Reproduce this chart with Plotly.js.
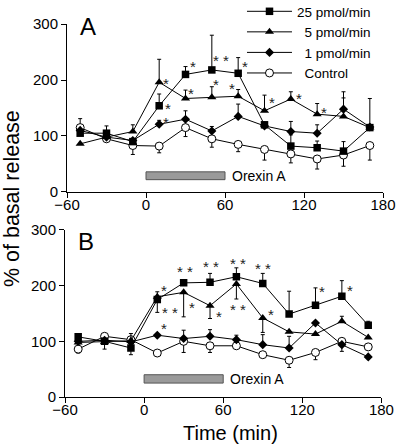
<!DOCTYPE html>
<html>
<head>
<meta charset="utf-8">
<script src="https://cdn.plot.ly/plotly-3.0.1.min.js"></script>
<style>html,body{margin:0;padding:0;background:#fff;}#chart{width:400px;height:446px;}</style>
</head>
<body>
<div id="chart"></div>
<script>
// ---- data ----
const times = [-50, -30, -10, 10, 30, 50, 70, 90, 110, 130, 150, 170];
const seriesNames = ["25 pmol/min", "\u20075 pmol/min", "\u20071 pmol/min", "\u2007Control"];

// Panel A
const a25 = [105, 105, 90, 154, 210, 218, 212, 120, 82, 79, 73, 115];
const a25Up = [0, 13, 0, 21, 14, 62, 28, 0, 20, 12, 17, 52];
const a25Down = [0, 0, 0, 0, 0, 0, 0, 0, 0, 0, 0, 0];
const a5 = [86, 98, 108, 196, 167, 169, 171, 145, 166, 139, 135, 115];
const a5Up = [0, 0, 12, 41, 15, 19, 12, 28, 13, 19, 44, 0];
const a5Down = [0, 0, 0, 0, 0, 0, 0, 0, 0, 0, 0, 0];
const a1 = [110, 98, 92, 121, 130, 109, 135, 118, 108, 105, 148, 116];
const a1Up = [0, 0, 0, 7, 15, 8, 22, 0, 18, 15, 20, 0];
const a1Down = [0, 0, 0, 0, 0, 0, 0, 0, 0, 0, 0, 0];
const aCtl = [115, 95, 83, 82, 115, 95, 85, 76, 68, 59, 66, 83];
const aCtlUp = [16, 0, 0, 0, 0, 0, 0, 0, 0, 0, 0, 0];
const aCtlDown = [0, 0, 16, 12, 16, 15, 13, 19, 16, 18, 20, 26];

// Panel B
const b25 = [108, 100, 88, 175, 205, 206, 216, 204, 149, 165, 181, 129];
const b25Up = [0, 0, 0, 14, 0, 16, 16, 18, 41, 31, 28, 7];
const b25Down = [0, 14, 12, 0, 0, 0, 0, 0, 0, 0, 0, 0];
const b5 = [98, 99, 101, 180, 188, 164, 203, 142, 117, 113, 136, 107];
const b5Up = [0, 0, 13, 0, 0, 0, 0, 0, 0, 0, 9, 0];
const b5Down = [0, 0, 0, 28, 44, 23, 27, 26, 0, 0, 0, 0];
const b1 = [100, 102, 99, 111, 105, 109, 103, 94, 88, 133, 94, 72];
const b1Up = [0, 0, 0, 0, 15, 12, 8, 18, 21, 0, 0, 0];
const b1Down = [0, 0, 0, 0, 0, 0, 0, 0, 0, 0, 0, 0];
const bCtl = [86, 109, 103, 79, 100, 92, 92, 76, 66, 80, 100, 90];
const bCtlUp = [0, 0, 0, 0, 0, 0, 0, 0, 0, 0, 0, 0];
const bCtlDown = [7, 0, 0, 0, 20, 12, 0, 0, 13, 13, 18, 0];

// Significance marks
const starsAX = [15, 17, 15, 36, 34, 57, 53, 65, 75, 96, 116, 135];
const starsAY = [200, 155, 130, 230, 181, 240, 198, 191, 230, 165, 172, 148];
const starsAT = ["*", "*", "*", "*", "*", "* *", "*", "*", "*", "*", "*", "*"];
const starsBX = [15, 20, 31, 36, 51, 57, 71, 71, 90, 96, 15, 135, 156];
const starsBY = [197, 158, 231, 166, 239, 150, 246, 163, 236, 154, 128, 194, 196];
const starsBT = ["*", "* *", "* *", "*", "* *", "*", "* *", "* *", "* *", "*", "*", "*", "*"];

// Orexin A infusion period
const orexinStart = 0;
const orexinEnd = 60;
const orexinLabel = "Orexin A";
const panelLabels = ["A", "B"];
const xTicks = [-60, 0, 60, 120, 180];
const yTicks = [0, 100, 200, 300];

// ---- styles ----
const FONT = "Liberation Sans, Arial, Helvetica, sans-serif";
const markers = [
  {symbol: "square", size: 7.5, color: "black", line: {color: "black", width: 0}},
  {symbol: "triangle-up", size: 8, color: "black", line: {color: "black", width: 0}},
  {symbol: "diamond", size: 7, color: "black", line: {color: "black", width: 0}},
  {symbol: "circle", size: 8, color: "white", line: {color: "black", width: 1}}
];

function mk(y, up, down, idx, xa, ya, showlegend) {
  return {
    x: times, y: y, type: "scatter", mode: "lines+markers",
    name: seriesNames[idx], showlegend: showlegend, legendrank: idx + 1,
    xaxis: xa, yaxis: ya,
    line: {color: "black", width: 1},
    marker: markers[idx],
    error_y: {type: "data", symmetric: false, array: up, arrayminus: down,
              color: "black", thickness: 1, width: 2}
  };
}

const data = [
  mk(aCtl, aCtlUp, aCtlDown, 3, "x", "y", true),
  mk(a1, a1Up, a1Down, 2, "x", "y", true),
  mk(a5, a5Up, a5Down, 1, "x", "y", true),
  mk(a25, a25Up, a25Down, 0, "x", "y", true),
  mk(bCtl, bCtlUp, bCtlDown, 3, "x2", "y2", false),
  mk(b1, b1Up, b1Down, 2, "x2", "y2", false),
  mk(b5, b5Up, b5Down, 1, "x2", "y2", false),
  mk(b25, b25Up, b25Down, 0, "x2", "y2", false)
];

const axisX = {range: [-60, 180], tickvals: xTicks, ticks: "outside", ticklen: 5, tickwidth: 1,
  tickcolor: "black", showline: true, linecolor: "black", linewidth: 1, zeroline: false,
  ticklabelstandoff: -6,
  showgrid: false, tickfont: {family: FONT, size: 15, color: "black"}, fixedrange: true};
const axisY = {range: [0, 300], tickvals: yTicks, ticks: "outside", ticklen: 5, tickwidth: 1,
  tickcolor: "black", showline: true, linecolor: "black", linewidth: 1, zeroline: false,
  showgrid: false, tickfont: {family: FONT, size: 15, color: "black"}, fixedrange: true};

const annotations = [];
function addStars(xs, ys, ts, xr, yr) {
  for (let i = 0; i < xs.length; i++) {
    annotations.push({x: xs[i], y: ys[i], xref: xr, yref: yr, text: ts[i], showarrow: false,
      xanchor: "center", yanchor: "middle", yshift: -3,
      font: {family: FONT, size: 15, color: "#222"}});
  }
}
addStars(starsAX, starsAY, starsAT, "x", "y");
addStars(starsBX, starsBY, starsBT, "x2", "y2");
annotations.push({x: orexinEnd + 4, y: 29, xref: "x", yref: "y", text: orexinLabel, showarrow: false,
  xanchor: "left", yanchor: "middle", font: {family: FONT, size: 14, color: "black"}});
annotations.push({x: orexinEnd + 4, y: 32, xref: "x2", yref: "y2", text: orexinLabel, showarrow: false,
  xanchor: "left", yanchor: "middle", font: {family: FONT, size: 14, color: "black"}});
annotations.push({x: -52, y: 295, xref: "x", yref: "y", text: panelLabels[0], showarrow: false,
  xanchor: "left", yanchor: "middle", font: {family: FONT, size: 24, color: "black"}});
annotations.push({x: -52, y: 280, xref: "x2", yref: "y2", text: panelLabels[1], showarrow: false,
  xanchor: "left", yanchor: "middle", font: {family: FONT, size: 24, color: "black"}});
annotations.push({x: -0.168, y: 0.5, xref: "paper", yref: "paper", text: "% of basal release",
  textangle: -90, showarrow: false, xanchor: "center", yanchor: "middle",
  font: {family: FONT, size: 21.5, color: "black"}});
annotations.push({x: 0.521, y: -0.0907, xref: "paper", yref: "paper", text: "Time (min)",
  showarrow: false, xanchor: "center", yanchor: "middle",
  font: {family: FONT, size: 20, color: "black"}});

const shapes = [
  {type: "rect", xref: "x", yref: "y", x0: orexinStart, x1: orexinEnd, y0: 22, y1: 36,
   fillcolor: "#9a9a9a", line: {color: "#555", width: 1}},
  {type: "rect", xref: "x2", yref: "y2", x0: orexinStart, x1: orexinEnd, y0: 25, y1: 40,
   fillcolor: "#9a9a9a", line: {color: "#555", width: 1}}
];

const layout = {
  width: 400, height: 446,
  margin: {l: 65, r: 17, t: 0, b: 49, pad: 0, autoexpand: false},
  paper_bgcolor: "white", plot_bgcolor: "white",
  font: {family: FONT, color: "black"},
  xaxis: Object.assign({}, axisX, {domain: [0.0063, 1], anchor: "y"}),
  yaxis: Object.assign({}, axisY, {domain: [0.5164, 0.9395], anchor: "x"}),
  xaxis2: Object.assign({}, axisX, {domain: [0, 0.995], anchor: "y2"}),
  yaxis2: Object.assign({}, axisY, {domain: [0, 0.4207], anchor: "x2"}),
  showlegend: true,
  legend: {x: 0.5566, y: 1.01, xanchor: "left", yanchor: "top", bgcolor: "rgba(0,0,0,0)",
           font: {family: FONT, size: 13.5, color: "black"}, itemwidth: 45, tracegroupgap: 0,
           traceorder: "normal", itemclick: false, itemdoubleclick: false},
  annotations: annotations,
  shapes: shapes
};

Plotly.newPlot("chart", data, layout, {displayModeBar: false, staticPlot: true});
</script>
</body>
</html>
